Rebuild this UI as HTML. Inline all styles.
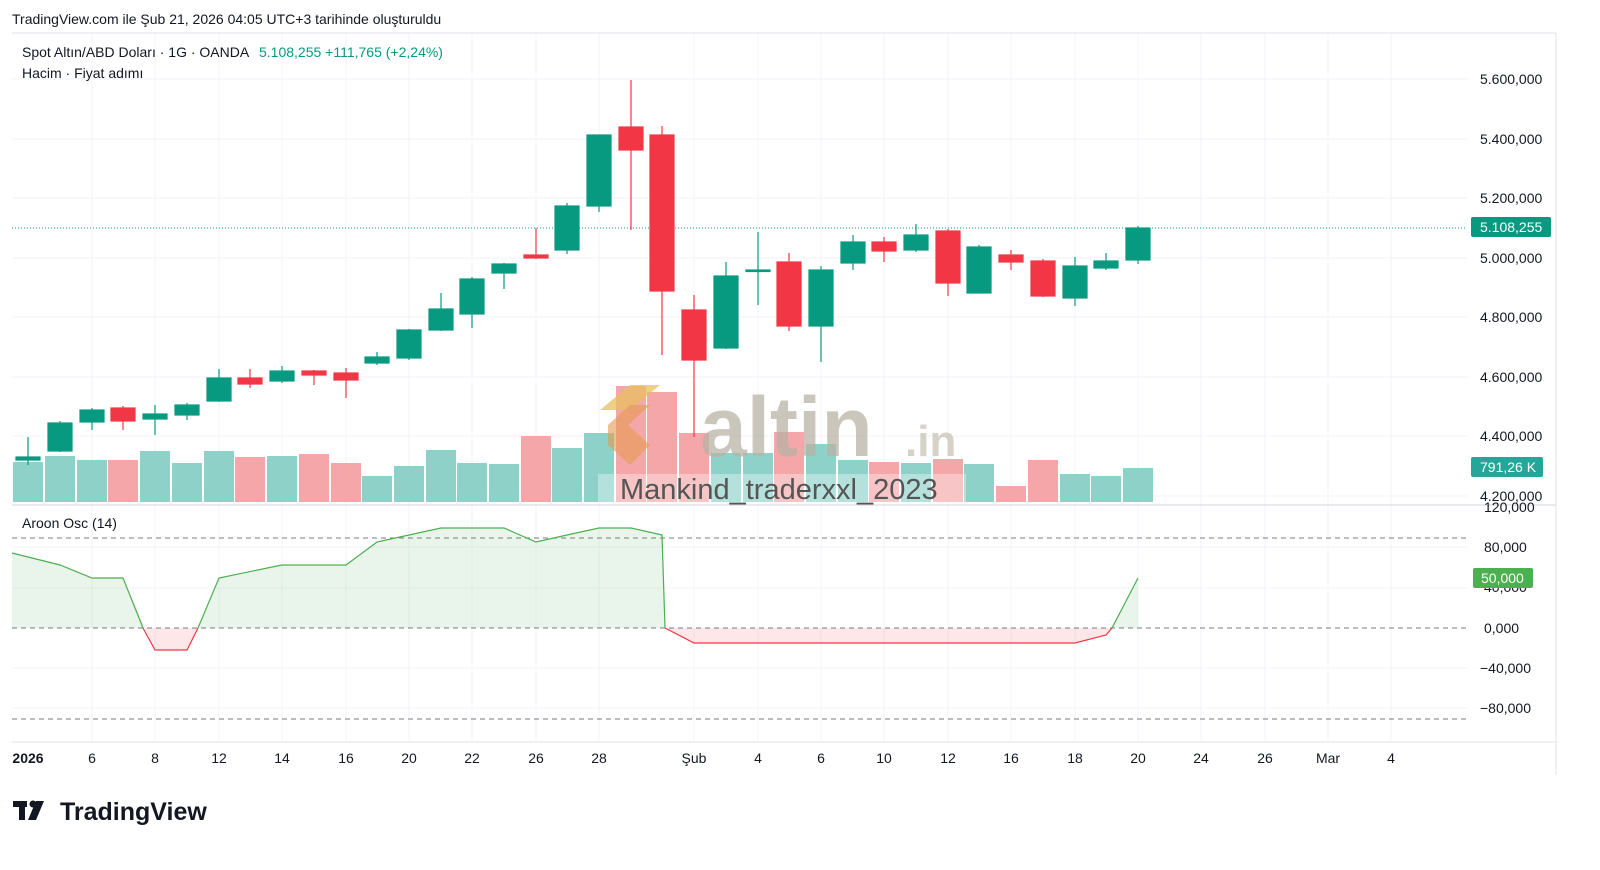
<!DOCTYPE html>
<html><head><meta charset="utf-8"><style>
body{margin:0;background:#fff;width:1600px;height:865px;overflow:hidden;font-family:"Liberation Sans",sans-serif}
svg text{font-family:"Liberation Sans",sans-serif}
</style></head><body>
<svg width="1600" height="865" xmlns="http://www.w3.org/2000/svg">
<rect width="1600" height="865" fill="#fff"/>
<text x="12" y="24" font-size="14" fill="#131722">TradingView.com ile Şub 21, 2026 04:05 UTC+3 tarihinde oluşturuldu</text>
<!-- grid -->
<g stroke="#f0f3fa" stroke-width="1">
<line x1="12" y1="79" x2="1467" y2="79"/><line x1="12" y1="139" x2="1467" y2="139"/><line x1="12" y1="198" x2="1467" y2="198"/><line x1="12" y1="258" x2="1467" y2="258"/><line x1="12" y1="317" x2="1467" y2="317"/><line x1="12" y1="377" x2="1467" y2="377"/><line x1="12" y1="436" x2="1467" y2="436"/><line x1="12" y1="496" x2="1467" y2="496"/>
<line x1="12" y1="547" x2="1467" y2="547"/><line x1="12" y1="588" x2="1467" y2="588"/><line x1="12" y1="668" x2="1467" y2="668"/><line x1="12" y1="708" x2="1467" y2="708"/>
<line x1="92" y1="33" x2="92" y2="740"/><line x1="155" y1="33" x2="155" y2="740"/><line x1="219" y1="33" x2="219" y2="740"/><line x1="282" y1="33" x2="282" y2="740"/><line x1="346" y1="33" x2="346" y2="740"/><line x1="409" y1="33" x2="409" y2="740"/><line x1="472" y1="33" x2="472" y2="740"/><line x1="536" y1="33" x2="536" y2="740"/><line x1="599" y1="33" x2="599" y2="740"/><line x1="694" y1="33" x2="694" y2="740"/><line x1="758" y1="33" x2="758" y2="740"/><line x1="821" y1="33" x2="821" y2="740"/><line x1="884" y1="33" x2="884" y2="740"/><line x1="948" y1="33" x2="948" y2="740"/><line x1="1011" y1="33" x2="1011" y2="740"/><line x1="1075" y1="33" x2="1075" y2="740"/><line x1="1138" y1="33" x2="1138" y2="740"/><line x1="1201" y1="33" x2="1201" y2="740"/><line x1="1265" y1="33" x2="1265" y2="740"/><line x1="1328" y1="33" x2="1328" y2="740"/><line x1="1391" y1="33" x2="1391" y2="740"/>
</g>
<line x1="12" y1="33" x2="1556" y2="33" stroke="#e0e3eb"/>
<line x1="12" y1="505" x2="1556" y2="505" stroke="#d1d4dc"/>
<line x1="12" y1="742" x2="1556" y2="742" stroke="#e0e3eb"/>
<line x1="1556" y1="33" x2="1556" y2="775" stroke="#e0e3eb"/>
<!-- volume -->
<g fill="#8ed1c9">
<rect x="13" y="462" width="30" height="40"/><rect x="45" y="456" width="30" height="46"/><rect x="77" y="460" width="30" height="42"/><rect x="140" y="451" width="30" height="51"/><rect x="172" y="463" width="30" height="39"/><rect x="204" y="451" width="30" height="51"/><rect x="267" y="456" width="30" height="46"/><rect x="362" y="476" width="30" height="26"/><rect x="394" y="466" width="30" height="36"/><rect x="426" y="450" width="30" height="52"/><rect x="457" y="463" width="30" height="39"/><rect x="489" y="464" width="30" height="38"/><rect x="552" y="448" width="30" height="54"/><rect x="584" y="433" width="30" height="69"/><rect x="711" y="453" width="30" height="49"/><rect x="743" y="453" width="30" height="49"/><rect x="806" y="444" width="30" height="58"/><rect x="838" y="460" width="30" height="42"/><rect x="901" y="463" width="30" height="39"/><rect x="964" y="464" width="30" height="38"/><rect x="1060" y="474" width="30" height="28"/><rect x="1091" y="476" width="30" height="26"/><rect x="1123" y="468" width="30" height="34"/>
</g>
<g fill="#f5a6a9">
<rect x="108" y="460" width="30" height="42"/><rect x="235" y="457" width="30" height="45"/><rect x="299" y="454" width="30" height="48"/><rect x="331" y="463" width="30" height="39"/><rect x="521" y="436" width="30" height="66"/><rect x="616" y="386" width="30" height="116"/><rect x="647" y="392" width="30" height="110"/><rect x="679" y="433" width="30" height="69"/><rect x="774" y="432" width="30" height="70"/><rect x="869" y="462" width="30" height="40"/><rect x="933" y="459" width="30" height="43"/><rect x="996" y="486" width="30" height="16"/><rect x="1028" y="460" width="30" height="42"/>
</g>
<!-- watermark -->
<g opacity="0.75">
<polygon points="600,410 630,385 660,385 630,410" fill="#e8c060"/>
<polygon points="608,425 630,405 650,405 628,425 650,445 630,465 608,445" fill="#e59a4e" opacity="0.8"/>
<text x="700" y="456" font-size="84" font-weight="bold" fill="#b9b3a6">altin</text>
<text x="905" y="456" font-size="44" font-weight="bold" fill="#c9c3b6">.in</text>
</g>
<rect x="598" y="474" width="368" height="30" fill="#fff" opacity="0.35"/>
<text x="620" y="499" font-size="29" fill="#555">Mankind_traderxxl_2023</text>
<!-- price line -->
<line x1="12" y1="228" x2="1467" y2="228" stroke="#089981" stroke-dasharray="1,2"/>
<!-- candles -->
<g stroke="#089981" fill="#089981" stroke-width="1.2">
<line x1="28" y1="437" x2="28" y2="465"/><rect x="16" y="457" width="24" height="3"/>
<line x1="60" y1="421" x2="60" y2="452"/><rect x="48" y="423" width="24" height="28"/>
<line x1="92" y1="408" x2="92" y2="430"/><rect x="80" y="410" width="24" height="12"/>
<line x1="155" y1="405" x2="155" y2="435"/><rect x="143" y="414" width="24" height="5"/>
<line x1="187" y1="403" x2="187" y2="420"/><rect x="175" y="405" width="24" height="10"/>
<line x1="219" y1="369" x2="219" y2="402"/><rect x="207" y="378" width="24" height="23"/>
<line x1="282" y1="366" x2="282" y2="383"/><rect x="270" y="371" width="24" height="10"/>
<line x1="377" y1="352" x2="377" y2="365"/><rect x="365" y="357" width="24" height="6"/>
<line x1="409" y1="329" x2="409" y2="360"/><rect x="397" y="330" width="24" height="28"/>
<line x1="441" y1="293" x2="441" y2="331"/><rect x="429" y="309" width="24" height="21"/>
<line x1="472" y1="277" x2="472" y2="328"/><rect x="460" y="279" width="24" height="35"/>
<line x1="504" y1="263" x2="504" y2="289"/><rect x="492" y="264" width="24" height="9"/>
<line x1="567" y1="203" x2="567" y2="254"/><rect x="555" y="206" width="24" height="44"/>
<line x1="599" y1="135" x2="599" y2="212"/><rect x="587" y="135" width="24" height="71"/>
<line x1="726" y1="262" x2="726" y2="349"/><rect x="714" y="276" width="24" height="72"/>
<line x1="758" y1="232" x2="758" y2="305"/><rect x="746" y="270" width="24" height="1.5"/>
<line x1="821" y1="266" x2="821" y2="362"/><rect x="809" y="270" width="24" height="56"/>
<line x1="853" y1="235" x2="853" y2="270"/><rect x="841" y="242" width="24" height="21"/>
<line x1="916" y1="224" x2="916" y2="252"/><rect x="904" y="235" width="24" height="15"/>
<line x1="979" y1="245" x2="979" y2="293"/><rect x="967" y="247" width="24" height="46"/>
<line x1="1075" y1="257" x2="1075" y2="306"/><rect x="1063" y="266" width="24" height="32"/>
<line x1="1106" y1="253" x2="1106" y2="270"/><rect x="1094" y="261" width="24" height="7"/>
<line x1="1138" y1="226" x2="1138" y2="264"/><rect x="1126" y="228" width="24" height="32"/>
</g>
<g stroke="#f23645" fill="#f23645" stroke-width="1.2">
<line x1="123" y1="406" x2="123" y2="430"/><rect x="111" y="408" width="24" height="13"/>
<line x1="250" y1="369" x2="250" y2="388"/><rect x="238" y="378" width="24" height="6"/>
<line x1="314" y1="370" x2="314" y2="385"/><rect x="302" y="371" width="24" height="4"/>
<line x1="346" y1="368" x2="346" y2="398"/><rect x="334" y="373" width="24" height="7"/>
<line x1="536" y1="228" x2="536" y2="259"/><rect x="524" y="255" width="24" height="3"/>
<line x1="631" y1="80" x2="631" y2="230"/><rect x="619" y="127" width="24" height="23"/>
<line x1="662" y1="126" x2="662" y2="355"/><rect x="650" y="135" width="24" height="156"/>
<line x1="694" y1="295" x2="694" y2="437"/><rect x="682" y="310" width="24" height="50"/>
<line x1="789" y1="253" x2="789" y2="331"/><rect x="777" y="262" width="24" height="64"/>
<line x1="884" y1="237" x2="884" y2="262"/><rect x="872" y="242" width="24" height="9"/>
<line x1="948" y1="229" x2="948" y2="296"/><rect x="936" y="231" width="24" height="52"/>
<line x1="1011" y1="250" x2="1011" y2="270"/><rect x="999" y="255" width="24" height="7"/>
<line x1="1043" y1="259" x2="1043" y2="297"/><rect x="1031" y="261" width="24" height="35"/>
</g>
<text x="22" y="57" font-size="14" fill="#131722">Spot Altın/ABD Doları · 1G · OANDA</text>
<text x="259" y="57" font-size="14" fill="#089981">5.108,255  +111,765 (+2,24%)</text>
<text x="22" y="78" font-size="14" fill="#131722">Hacim · Fiyat adımı</text>
<!-- price axis -->
<g font-size="14" fill="#131722">
<text x="1480" y="84">5.600,000</text><text x="1480" y="144">5.400,000</text><text x="1480" y="203">5.200,000</text><text x="1480" y="263">5.000,000</text><text x="1480" y="322">4.800,000</text><text x="1480" y="382">4.600,000</text><text x="1480" y="441">4.400,000</text><text x="1480" y="501">4.200,000</text>
<text x="1484" y="512">120,000</text><text x="1484" y="552">80,000</text><text x="1484" y="592">40,000</text><text x="1484" y="633">0,000</text><text x="1480" y="673">−40,000</text><text x="1480" y="713">−80,000</text>
</g>
<rect x="1471" y="217" width="80" height="20" rx="2" fill="#089981"/><text x="1480" y="232" font-size="14" fill="#fff">5.108,255</text>
<rect x="1471" y="457" width="72" height="20" rx="2" fill="#26a69a"/><text x="1480" y="472" font-size="14" fill="#fff">791,26 K</text>
<!-- aroon -->
<text x="22" y="528" font-size="14" fill="#131722">Aroon Osc (14)</text>
<line x1="12" y1="538" x2="1467" y2="538" stroke="#787b86" stroke-dasharray="5,4"/>
<line x1="12" y1="628" x2="1467" y2="628" stroke="#787b86" stroke-dasharray="5,4"/>
<line x1="12" y1="719" x2="1467" y2="719" stroke="#787b86" stroke-dasharray="5,4"/>
<path d="M12,553 L60,565 L92,578 L123,578 L143,628 L198,628 L219,578 L282,565 L346,565 L377,542 L441,528 L504,528 L536,542 L567,535 L599,528 L631,528 L662,535 L665,628 L1112,628 L1138,578 L1138,628 L12,628Z" fill="#4caf50" opacity="0.12"/>
<path d="M123,578 L143,628 L198,628 L187,650 L155,650Z M665,628 L694,643 L1075,643 L1106,635 L1112,628Z" fill="#f23645" opacity="0.12"/>
<polyline points="12,553 60,565 92,578 123,578 143,628" fill="none" stroke="#4caf50" stroke-width="1.2"/>
<polyline points="143,628 155,650 187,650 198,628" fill="none" stroke="#f23645" stroke-width="1.2"/>
<polyline points="198,628 219,578 282,565 346,565 377,542 441,528 504,528 536,542 567,535 599,528 631,528 662,535 665,628" fill="none" stroke="#4caf50" stroke-width="1.2"/>
<polyline points="665,628 694,643 1075,643 1106,635 1112,628" fill="none" stroke="#f23645" stroke-width="1.2"/>
<polyline points="1112,628 1138,578" fill="none" stroke="#4caf50" stroke-width="1.2"/>
<rect x="1473" y="568" width="60" height="20" rx="2" fill="#4caf50"/><text x="1481" y="583" font-size="14" fill="#fff">50,000</text>
<!-- time axis -->
<g font-size="14" fill="#131722" text-anchor="middle">
<text x="28" y="763" font-weight="bold">2026</text><text x="92" y="763">6</text><text x="155" y="763">8</text><text x="219" y="763">12</text><text x="282" y="763">14</text><text x="346" y="763">16</text><text x="409" y="763">20</text><text x="472" y="763">22</text><text x="536" y="763">26</text><text x="599" y="763">28</text><text x="694" y="763">Şub</text><text x="758" y="763">4</text><text x="821" y="763">6</text><text x="884" y="763">10</text><text x="948" y="763">12</text><text x="1011" y="763">16</text><text x="1075" y="763">18</text><text x="1138" y="763">20</text><text x="1201" y="763">24</text><text x="1265" y="763">26</text><text x="1328" y="763">Mar</text><text x="1391" y="763">4</text>
</g>
<!-- logo -->
<g fill="#131722">
<rect x="13" y="801" width="14" height="6"/><rect x="19" y="801" width="6" height="19"/><circle cx="33" cy="804" r="3.5"/><polygon points="36,801 44,801 36,820 28,820"/>
<text x="60" y="820" font-size="25" font-weight="bold">TradingView</text>
</g>
</svg>
</body></html>
